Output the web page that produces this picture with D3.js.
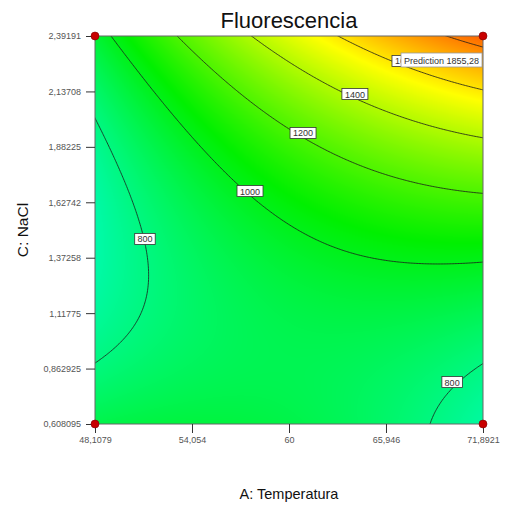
<!DOCTYPE html>
<html>
<head>
<meta charset="utf-8">
<script src="https://cdn.jsdelivr.net/npm/d3@7"></script>
<style>
  body { margin: 0; background: #fff; }
  text { font-family: "Liberation Sans", Arial, sans-serif; }
</style>
</head>
<body>
<div id="plot"></div>
<script>
// factor ranges (actual units)
var tempRange = [48.1079, 71.8921];
var naclRange = [0.608095, 2.39191];

// tick values and their printed labels
var tempTicks = [48.1079, 54.054, 60, 65.946, 71.8921];
var tempTickLabels = ["48,1079", "54,054", "60", "65,946", "71,8921"];
var naclTicks = [0.608095, 0.862925, 1.11775, 1.37258, 1.62742, 1.88225, 2.13708, 2.39191];
var naclTickLabels = ["0,608095", "0,862925", "1,11775", "1,37258", "1,62742", "1,88225", "2,13708", "2,39191"];

// quadratic model in coded units (A = temperatura, C = NaCl)
var modelTerms = ["Intercept", "A", "C", "AC", "A^2", "C^2"];
var modelCoefs = [991.7, 184.6, 291.4, 268.6, -89.4, 208.0];

// contour levels
var contourLevels = [800, 1000, 1200, 1400, 1600, 1800];

// contour labels placed along the lines
var labelText = ["800", "1000", "1200", "1400", "1600", "800"];
var labelTemp = [51.17, 57.61, 60.86, 64.04, 67.11, 70.00];
var labelNacl = [1.459, 1.679, 1.946, 2.125, 2.277, 0.801];

// design points shown on the plot
var designTemp = [48.1079, 71.8921, 48.1079, 71.8921];
var designNacl = [0.608095, 0.608095, 2.39191, 2.39191];

// prediction flag
var predTemp = 71.8921;
var predNacl = 2.39191;
var predValue = "1855,28";

var width = 506;
var height = 508;
var pLeft = 95, pRight = 483, pTop = 36, pBottom = 424;

var svg = d3.select("#plot").append("svg").attr("width", width).attr("height", height);

var xScale = d3.scaleLinear().domain(tempRange).range([pLeft, pRight]);
var yScale = d3.scaleLinear().domain(naclRange).range([pBottom, pTop]);

var tMid = (tempRange[0] + tempRange[1]) / 2, tHalf = (tempRange[1] - tempRange[0]) / 2;
var nMid = (naclRange[0] + naclRange[1]) / 2, nHalf = (naclRange[1] - naclRange[0]) / 2;

function predict(temp, nacl) {
    var a = (temp - tMid) / tHalf;
    var c = (nacl - nMid) / nHalf;
    var b = modelCoefs;
    return b[0] + b[1] * a + b[2] * c + b[3] * a * c + b[4] * a * a + b[5] * c * c;
}

var color = d3.scaleLinear()
    .domain([550, 1050, 1550, 2050])
    .range(["#00ffff", "#00f000", "#ffff00", "#ff0000"])
    .clamp(true);

// gradient fill, drawn pixel by pixel on a canvas
var pw = pRight - pLeft, ph = pBottom - pTop;
var canvas = document.createElement("canvas");
canvas.width = pw; canvas.height = ph;
var ctx = canvas.getContext("2d");
var img = ctx.createImageData(pw, ph);
for (var j = 0; j < ph; j++) {
    for (var i = 0; i < pw; i++) {
        var v = predict(xScale.invert(pLeft + i + 0.5), yScale.invert(pTop + j + 0.5));
        var c = d3.rgb(color(v));
        var k = (j * pw + i) * 4;
        img.data[k] = c.r; img.data[k + 1] = c.g; img.data[k + 2] = c.b; img.data[k + 3] = 255;
    }
}
ctx.putImageData(img, 0, 0);

svg.append("image")
    .attr("x", pLeft).attr("y", pTop)
    .attr("width", pw).attr("height", ph)
    .attr("href", canvas.toDataURL());

// contour lines: grid a bit larger than the plot, then clipped
var ext = 10;
var n = 260, m = 260;
var gx = d3.scaleLinear().domain([0, n]).range([pLeft - ext, pRight + ext]);
var gy = d3.scaleLinear().domain([0, m]).range([pTop - ext, pBottom + ext]);
var grid = new Array(n * m);
for (var jj = 0; jj < m; jj++) {
    for (var ii = 0; ii < n; ii++) {
        grid[jj * n + ii] = predict(xScale.invert(gx(ii + 0.5)), yScale.invert(gy(jj + 0.5)));
    }
}
var contours = d3.contours().size([n, m]).thresholds(contourLevels)(grid);
var path = d3.geoPath(d3.geoTransform({
    point: function(x, y) { this.stream.point(gx(x), gy(y)); }
}));

svg.append("clipPath").attr("id", "clip")
    .append("rect").attr("x", pLeft).attr("y", pTop).attr("width", pw).attr("height", ph);

svg.append("g")
    .attr("clip-path", "url(#clip)")
    .selectAll("path")
    .data(contours)
    .enter()
    .append("path")
    .attr("d", path)
    .attr("fill", "none")
    .attr("stroke", "#1a1a1a")
    .attr("stroke-width", 0.8);

// frame
svg.append("rect")
    .attr("x", pLeft).attr("y", pTop).attr("width", pw).attr("height", ph)
    .attr("fill", "none").attr("stroke", "#666").attr("stroke-width", 1);

// axes
var xAxis = svg.append("g")
    .attr("transform", "translate(0," + pBottom + ")")
    .call(d3.axisBottom(xScale).tickValues(tempTicks).tickSize(9).tickPadding(4)
        .tickFormat(function(d, i) { return tempTickLabels[i]; }));
var yAxis = svg.append("g")
    .attr("transform", "translate(" + pLeft + ",0)")
    .call(d3.axisLeft(yScale).tickValues(naclTicks).tickSize(9).tickPadding(5)
        .tickFormat(function(d, i) { return naclTickLabels[i]; }));
[xAxis, yAxis].forEach(function(ax) {
    ax.select(".domain").remove();
    ax.selectAll(".tick line").attr("stroke", "#333");
    ax.selectAll(".tick text").attr("fill", "#555").style("font-size", "9px")
        .style("font-family", "'Liberation Sans', Arial, sans-serif");
});

// contour labels
var labels = svg.append("g").selectAll("g")
    .data(labelText)
    .enter()
    .append("g")
    .attr("transform", function(d, i) {
        return "translate(" + xScale(labelTemp[i]) + "," + yScale(labelNacl[i]) + ")";
    });
labels.append("rect")
    .attr("x", function(d) { return -d.length * 2.75 - 2; })
    .attr("y", -5.5)
    .attr("width", function(d) { return d.length * 5.5 + 4; })
    .attr("height", 11)
    .attr("fill", "#fff")
    .attr("stroke", "#333")
    .attr("stroke-width", 0.8);
labels.append("text")
    .attr("text-anchor", "middle")
    .attr("y", 3.5)
    .attr("fill", "#333")
    .style("font-size", "9px")
    .text(function(d) { return d; });

// prediction flag
var flag = svg.append("g")
    .attr("transform", "translate(" + xScale(predTemp) + "," + yScale(predNacl) + ")");
flag.append("rect")
    .attr("x", -82).attr("y", 17).attr("width", 81).attr("height", 14)
    .attr("fill", "#fff").attr("stroke", "#999").attr("stroke-width", 0.8);
flag.append("text")
    .attr("x", -79).attr("y", 27.5).attr("fill", "#333").style("font-size", "9px")
    .text("Prediction");
flag.append("text")
    .attr("x", -4).attr("y", 27.5).attr("text-anchor", "end").attr("fill", "#333").style("font-size", "9px")
    .text(predValue);

// design points
svg.append("g")
    .selectAll("circle")
    .data(designTemp)
    .enter()
    .append("circle")
    .attr("cx", function(d) { return xScale(d); })
    .attr("cy", function(d, i) { return yScale(designNacl[i]); })
    .attr("r", 4)
    .attr("fill", "#c80000")
    .attr("stroke", "#800000")
    .attr("stroke-width", 0.6);

// titles
svg.append("text")
    .attr("x", (pLeft + pRight) / 2).attr("y", 28)
    .attr("text-anchor", "middle")
    .style("font-size", "22px")
    .attr("fill", "#111")
    .text("Fluorescencia");
svg.append("text")
    .attr("x", (pLeft + pRight) / 2).attr("y", 499)
    .attr("text-anchor", "middle")
    .style("font-size", "14.5px")
    .attr("fill", "#111")
    .text("A: Temperatura");
svg.append("text")
    .attr("transform", "translate(28," + ((pTop + pBottom) / 2) + ") rotate(-90)")
    .attr("text-anchor", "middle")
    .style("font-size", "15.5px")
    .attr("fill", "#111")
    .text("C: NaCl");
</script>
</body>
</html>
